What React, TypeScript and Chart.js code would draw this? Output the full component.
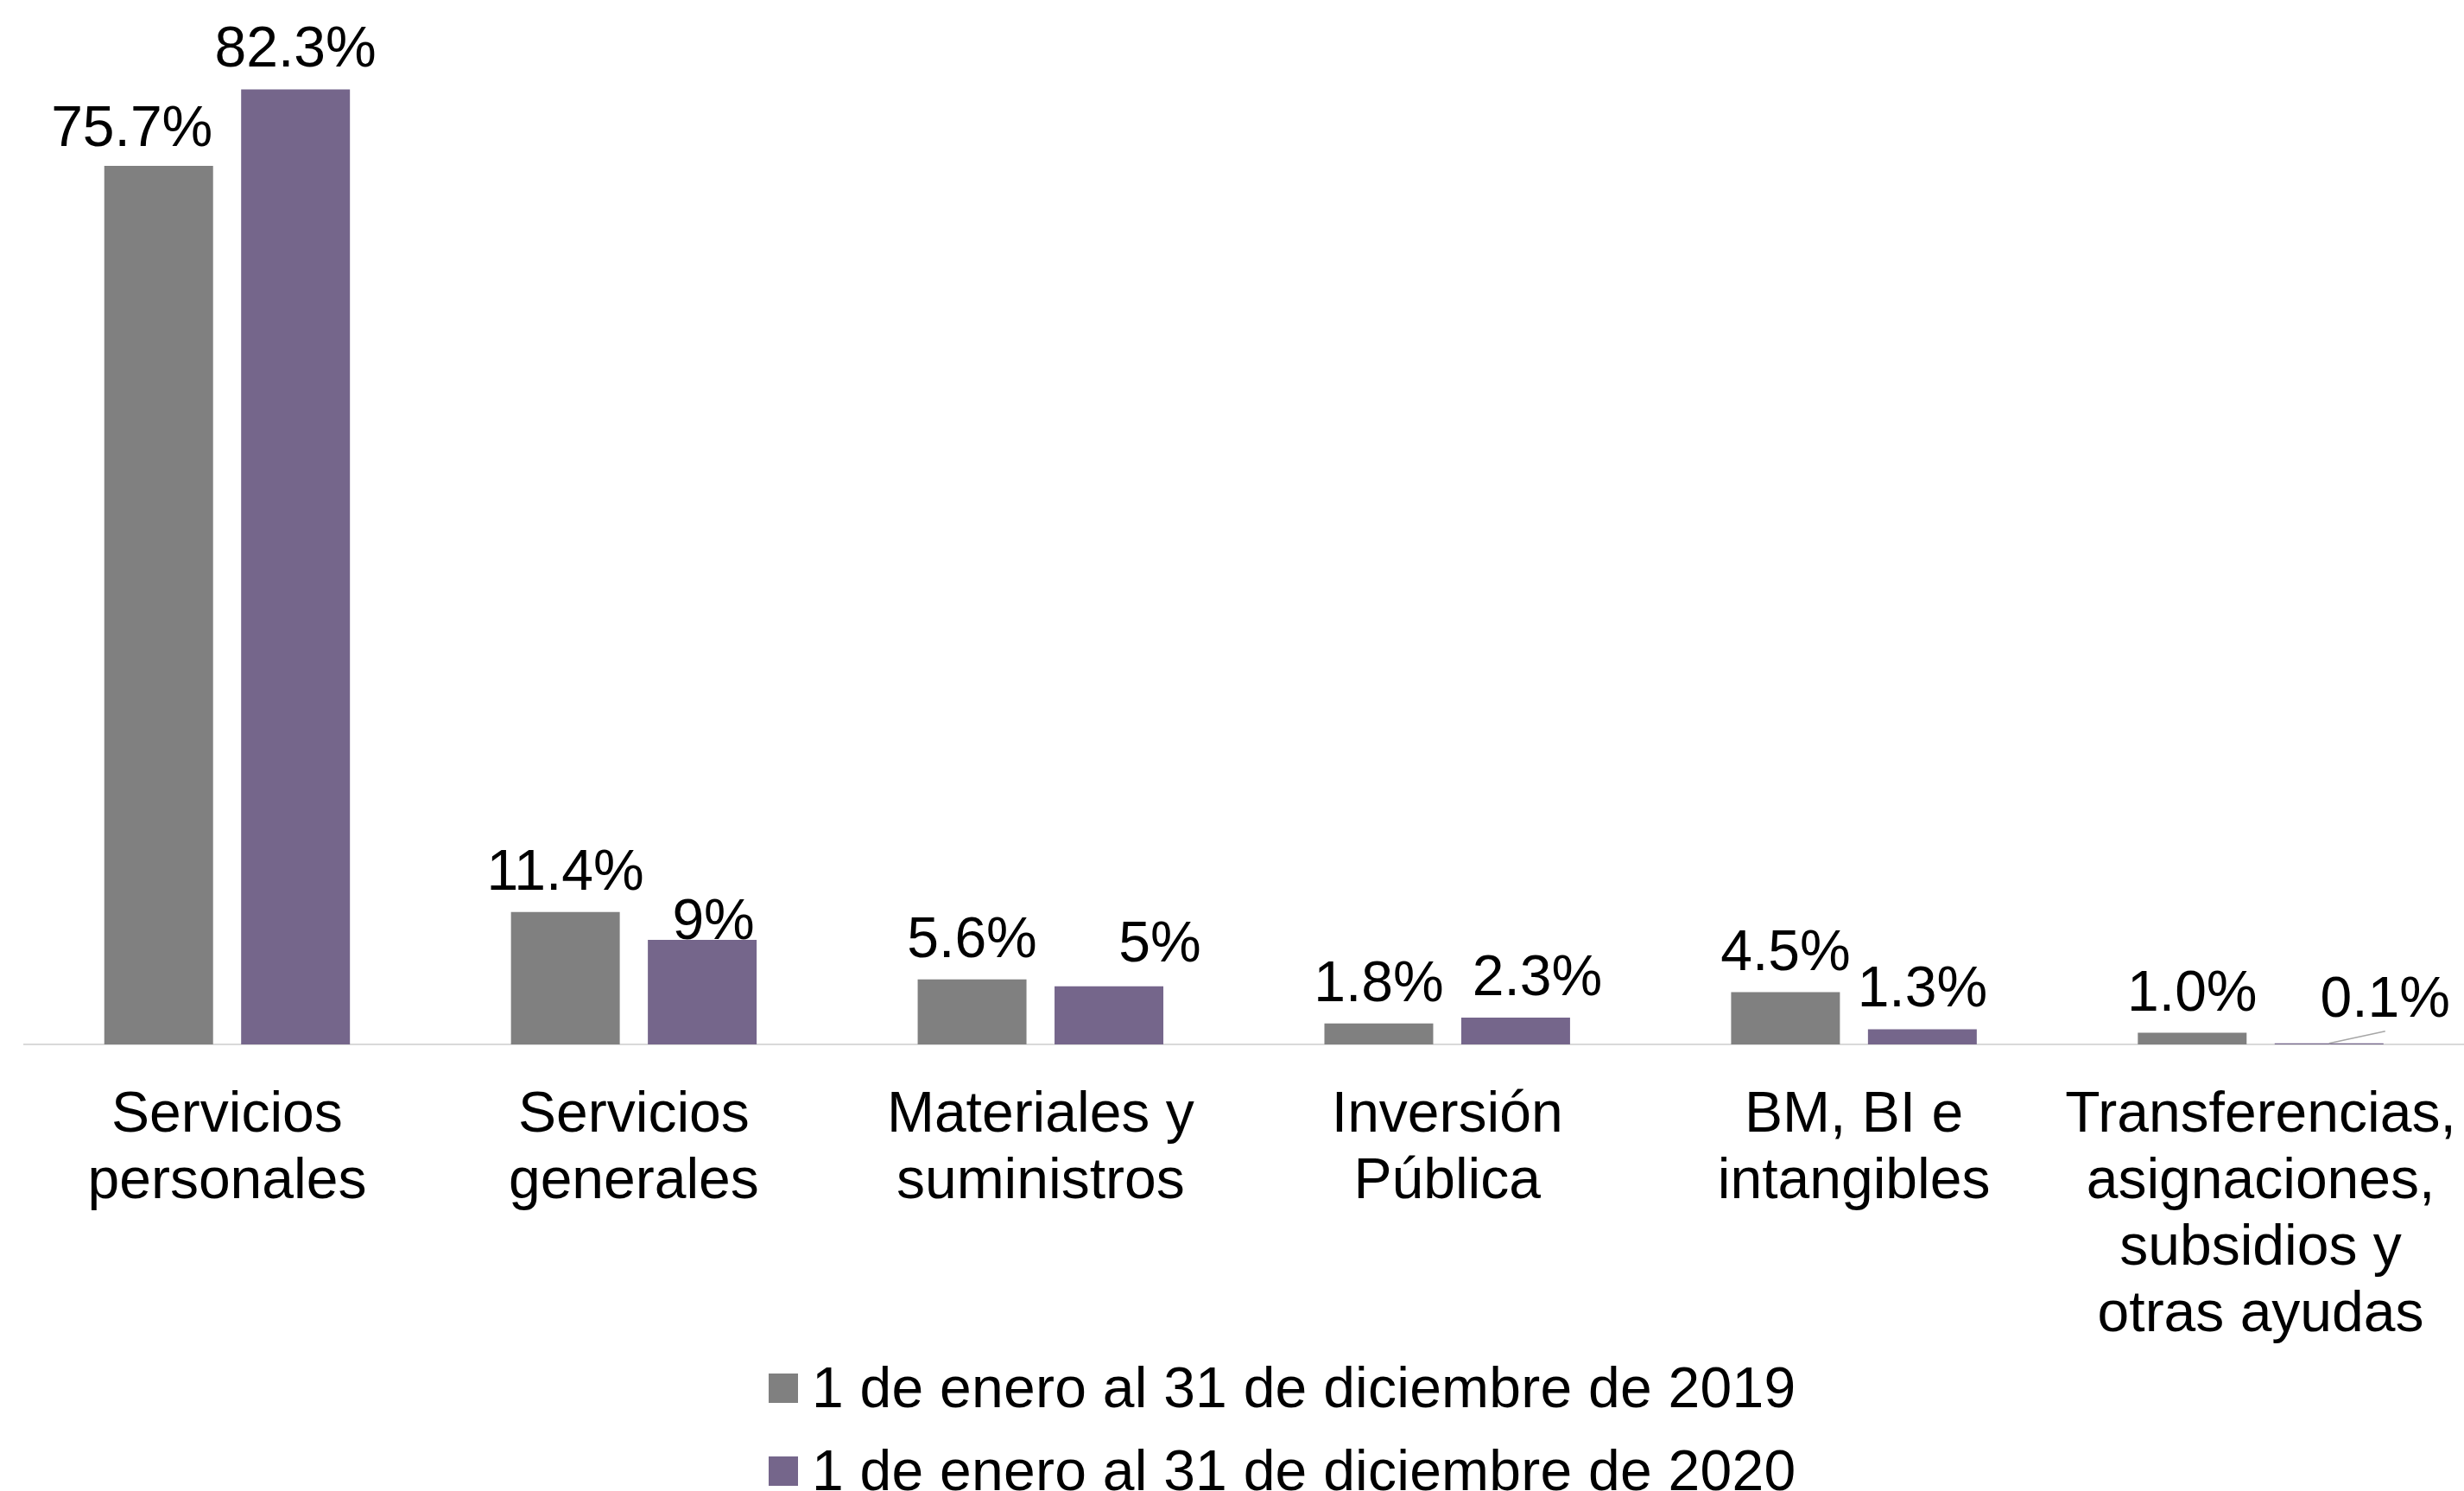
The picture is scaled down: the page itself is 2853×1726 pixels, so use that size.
import React, { useEffect, useRef } from 'react';
import { Chart, registerables } from 'chart.js';

Chart.register(...registerables);

const categories: string[][] = [
  ['Servicios', 'personales'],
  ['Servicios', 'generales'],
  ['Materiales y', 'suministros'],
  ['Inversión', 'Pública'],
  ['BM, BI e', 'intangibles'],
  ['Transferencias,', 'asignaciones,', 'subsidios y', 'otras ayudas'],
];
const seriesNames = [
  '1 de enero al 31 de diciembre de 2019',
  '1 de enero al 31 de diciembre de 2020',
];
const values2019 = [75.7, 11.4, 5.6, 1.8, 4.5, 1.0];
const values2020 = [82.3, 9, 5, 2.3, 1.3, 0.1];
const labels2019 = ['75.7%', '11.4%', '5.6%', '1.8%', '4.5%', '1.0%'];
const labels2020 = ['82.3%', '9%', '5%', '2.3%', '1.3%', '0.1%'];

// label placement tweaks (pixels), kept apart from data
const labelOffsets2019 = [[-31, 3], [0, 0], [0, 0], [0, 0], [0, 0], [0, 0]];
const labelOffsets2020 = [[0, 0], [13, 25], [59, -3], [25, 0], [0, -1], [65, -5]];
const leaderLines2020 = [false, false, false, false, false, true];

const COLORS = ['#808080', '#75668B'];
const FONT = "'Liberation Sans', Arial, sans-serif";

const labelPlugin = {
  id: 'barLabels',
  afterDatasetsDraw(chart: any) {
    const ctx = chart.ctx;
    const allLabels = [labels2019, labels2020];
    const allOffsets = [labelOffsets2019, labelOffsets2020];
    ctx.save();
    ctx.font = `66px ${FONT}`;
    ctx.fillStyle = '#000';
    ctx.textAlign = 'center';
    ctx.textBaseline = 'alphabetic';
    chart.data.datasets.forEach((_: any, di: number) => {
      const meta = chart.getDatasetMeta(di);
      meta.data.forEach((el: any, i: number) => {
        const [dx, dy] = allOffsets[di][i];
        const x = el.x + dx;
        const y = el.y - 26 + dy;
        ctx.fillText(allLabels[di][i], x, y);
        if (di === 1 && leaderLines2020[i]) {
          ctx.beginPath();
          ctx.strokeStyle = '#a6a6a6';
          ctx.lineWidth = 1.5;
          ctx.moveTo(el.x, el.y);
          ctx.lineTo(x, y + 17);
          ctx.stroke();
        }
      });
    });
    ctx.restore();
  },
};

const legendPlugin = {
  id: 'customLegend',
  afterDraw(chart: any) {
    const ctx = chart.ctx;
    ctx.save();
    ctx.font = `66px ${FONT}`;
    ctx.textAlign = 'left';
    ctx.textBaseline = 'alphabetic';
    try { (ctx as any).letterSpacing = '0.25px'; } catch (e) {}
    seriesNames.forEach((name, i) => {
      const rowY = 1590 + i * 96;
      ctx.fillStyle = COLORS[i];
      ctx.fillRect(890, rowY, 34, 34);
      ctx.fillStyle = '#000';
      ctx.fillText(name, 940, rowY + 39);
    });
    ctx.restore();
  },
};

export default function App() {
  const canvasRef = useRef<HTMLCanvasElement | null>(null);

  useEffect(() => {
    if (!canvasRef.current) return;
    Chart.defaults.font.family = FONT;
    const chart = new Chart(canvasRef.current, {
      type: 'bar',
      data: {
        labels: categories,
        datasets: [
          {
            label: seriesNames[0],
            data: values2019,
            backgroundColor: COLORS[0],
            borderWidth: 0,
            barPercentage: 0.795,
            categoryPercentage: 0.673,
          },
          {
            label: seriesNames[1],
            data: values2020,
            backgroundColor: COLORS[1],
            borderWidth: 0,
            barPercentage: 0.795,
            categoryPercentage: 0.673,
          },
        ],
      },
      options: {
        responsive: true,
        maintainAspectRatio: false,
        animation: false,
        layout: { autoPadding: false, padding: { left: 27.5, top: 0, right: 0, bottom: 0 } },
        scales: {
          x: {
            grid: { display: false },
            border: { display: true, color: '#d9d9d9', width: 2 },
            ticks: {
              color: '#000',
              font: { size: 66, family: FONT, lineHeight: 77 / 66 },
              padding: 36,
              maxRotation: 0,
              minRotation: 0,
              autoSkip: false,
            },
            afterFit: (scale: any) => {
              scale.height = 517;
              scale.paddingLeft = 0;
              scale.paddingRight = 0;
            },
          },
          y: {
            display: false,
            min: 0,
            max: 90,
          },
        },
        plugins: {
          legend: { display: false },
          tooltip: { enabled: false },
        },
      },
      plugins: [labelPlugin, legendPlugin],
    });
    return () => chart.destroy();
  }, []);

  return (
    <div style={{ position: 'fixed', left: 0, top: 0, width: 2853, height: 1726, background: '#fff' }}>
      <canvas ref={canvasRef} />
    </div>
  );
}
